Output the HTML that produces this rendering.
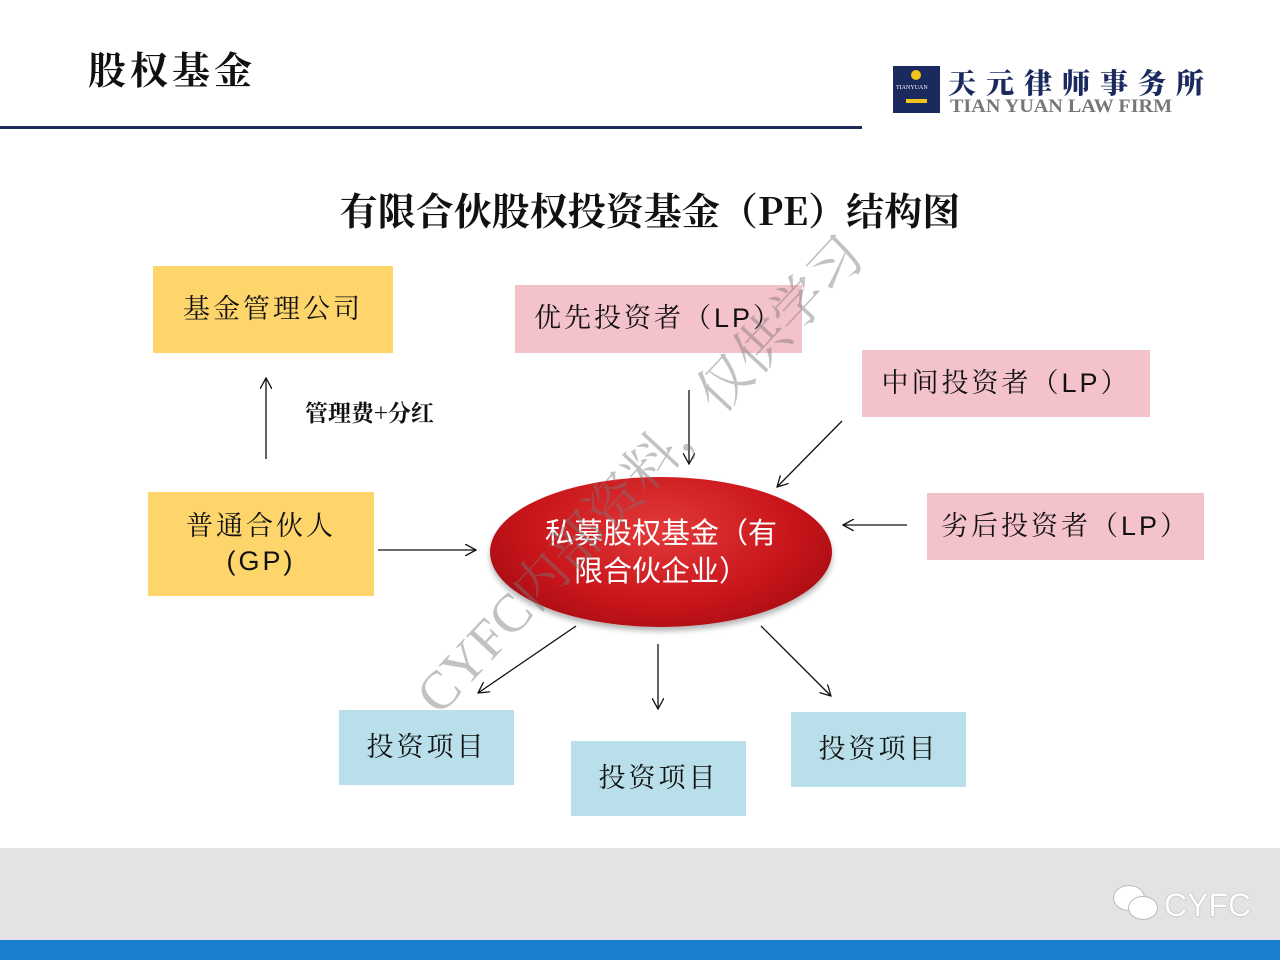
<!DOCTYPE html>
<html><head><meta charset="utf-8"><style>
body{margin:0;width:1280px;height:960px;position:relative;background:#fff;overflow:hidden;font-family:"Liberation Sans","Noto Sans CJK SC",sans-serif;}
.a{position:absolute}
.box{position:absolute;display:flex;align-items:center;justify-content:center;font-family:"Liberation Sans","Noto Serif CJK SC",serif;font-size:27px;color:#111;letter-spacing:3px;text-align:center;line-height:1.3}
.y{background:#fdd56a}.p{background:#f4c2cb}.b{background:#b9e0ea}
</style></head><body>
<div class="a" style="left:88px;top:40px;font-family:'Noto Serif CJK SC',serif;font-weight:bold;font-size:38px;letter-spacing:4px;color:#111">股权基金</div>
<div class="a" style="left:0;top:126px;width:862px;height:3px;background:#1f2a5c"></div>
<div class="a" style="left:893px;top:66px;width:47px;height:47px;background:#1b2a5e"></div>
<div class="a" style="left:911px;top:70px;width:10px;height:10px;border-radius:50%;background:#f0c419"></div>
<div class="a" style="left:896px;top:85px;font-size:6px;color:#fff;font-family:'Liberation Serif',serif">TIANYUAN</div>
<div class="a" style="left:906px;top:99px;width:21px;height:4px;background:#f0c419"></div>
<div class="a" style="left:948px;top:62px;font-family:'Noto Serif CJK SC',serif;font-weight:900;font-size:28px;letter-spacing:10px;color:#1b2a5e">天元律师事务所</div>
<div class="a" style="left:950px;top:96px;font-family:'Liberation Serif',serif;font-size:19px;font-weight:bold;color:#777;white-space:nowrap;transform:scaleX(1.06);transform-origin:left">TIAN YUAN LAW FIRM</div>
<div class="a" style="left:0;width:1300px;top:181px;text-align:center;font-family:'Noto Serif CJK SC',serif;font-weight:bold;font-size:38px;color:#111">有限合伙股权投资基金（PE）结构图</div>

<div class="box y" style="left:153px;top:266px;width:240px;height:87px">基金管理公司</div>
<div class="box y" style="left:148px;top:492px;width:226px;height:104px">普通合伙人<br>(GP)</div>
<div class="box p" style="left:515px;top:285px;width:287px;height:68px">优先投资者（LP）</div>
<div class="box p" style="left:862px;top:350px;width:288px;height:67px">中间投资者（LP）</div>
<div class="box p" style="left:927px;top:493px;width:277px;height:67px">劣后投资者（LP）</div>
<div class="box b" style="left:339px;top:710px;width:175px;height:75px">投资项目</div>
<div class="box b" style="left:571px;top:741px;width:175px;height:75px">投资项目</div>
<div class="box b" style="left:791px;top:712px;width:175px;height:75px">投资项目</div>
<div class="a" style="left:305px;top:395px;font-family:'Noto Serif CJK SC',serif;font-size:23px;color:#111;font-weight:bold">管理费+分红</div>

<div class="a" style="left:490px;top:477px;width:342px;height:150px;border-radius:50%;background:radial-gradient(ellipse at 50% 35%,#e23a3a 0%,#c8141a 55%,#8e0a0e 100%);box-shadow:0 4px 6px rgba(0,0,0,.3)"></div>
<div class="a" style="left:490px;top:512px;width:342px;text-align:center;color:#fff;font-size:29px;line-height:38px;font-family:'Noto Sans CJK SC',sans-serif">私募股权基金（有<br>限合伙企业）</div>

<svg class="a" style="left:0;top:0" width="1280" height="960">
<defs><marker id="m" markerWidth="12" markerHeight="12" refX="11" refY="6" orient="auto" markerUnits="userSpaceOnUse"><path d="M0,0 L11,6 L0,12" fill="none" stroke="#111" stroke-width="1.3"/></marker></defs>
<g stroke="#111" stroke-width="1.3" marker-end="url(#m)">
<line x1="266" y1="459" x2="266" y2="378"/>
<line x1="378" y1="550" x2="476" y2="550"/>
<line x1="689" y1="390" x2="689" y2="464"/>
<line x1="842" y1="421" x2="777" y2="487"/>
<line x1="907" y1="525" x2="843" y2="525"/>
<line x1="576" y1="626" x2="478" y2="693"/>
<line x1="658" y1="644" x2="658" y2="709"/>
<line x1="761" y1="626" x2="831" y2="696"/>
</g>
</svg>
<div class="a" style="transform:rotate(-47deg);transform-origin:left top;font-family:'Liberation Serif','Noto Serif CJK SC',serif;font-size:54px;color:rgba(120,120,120,.45);white-space:nowrap;top:675px;left:395px">CYFC内部资料，仅供学习</div>

<div class="a" style="left:0;top:848px;width:1280px;height:92px;background:#e3e3e5"></div>
<div class="a" style="left:0;top:940px;width:1280px;height:20px;background:#1b7fcf"></div>
<div class="a" style="left:1113px;top:885px;width:30px;height:24px;border-radius:50%;background:#fff;border:1px solid #bbb"></div>
<div class="a" style="left:1128px;top:896px;width:28px;height:22px;border-radius:50%;background:#fff;border:1px solid #bbb"></div>
<div class="a" style="left:1164px;top:887px;font-size:32px;color:#fff;text-shadow:0 0 1px #666">CYFC</div>
</body></html>
